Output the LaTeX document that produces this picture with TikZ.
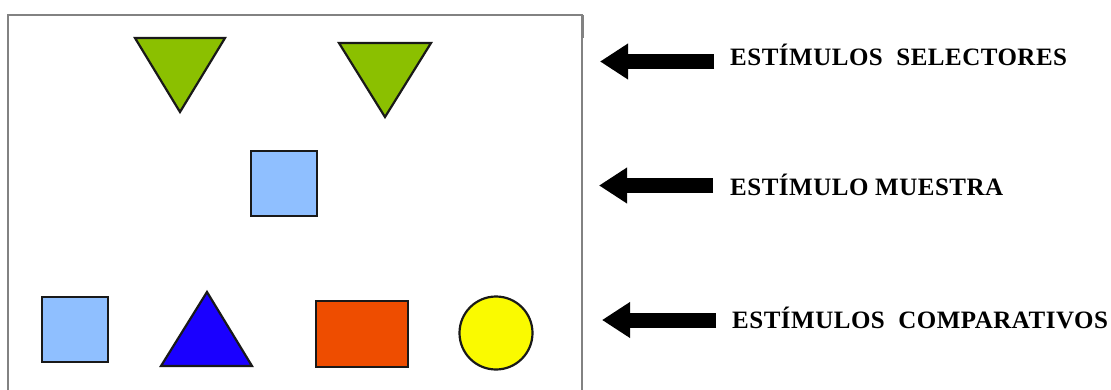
\documentclass[tikz,border=0pt]{standalone}
\usepackage{fontspec}
\setmainfont{Liberation Serif}
\usetikzlibrary{arrows.meta}
\definecolor{selgreen}{RGB}{139,192,0}
\definecolor{lightblue}{RGB}{143,191,255}
\definecolor{deepblue}{RGB}{26,0,255}
\definecolor{redorange}{RGB}{238,77,0}
\definecolor{brightyellow}{RGB}{250,250,0}
\definecolor{framegray}{RGB}{130,130,130}
\tikzset{
  shapeline/.style={draw=black!90, line width=2.2pt, line join=miter},
  fatarrow/.style={line width=15pt, -{Triangle[length=28pt,width=34pt]}, black},
  lbl/.style={anchor=base west, inner sep=0pt, font=\bfseries\fontsize{25pt}{28pt}\selectfont\addfontfeature{LetterSpace=2}},
}
\begin{document}
\begin{tikzpicture}[x=1pt,y=-1pt]
\useasboundingbox (0,0) rectangle (1111,389);
% frame
\draw[framegray, line width=1.6pt] (8,395) -- (8,15) -- (582,15) -- (582,395);
\draw[framegray, line width=3pt] (582,15) -- (582,38);
% selector triangles
\draw[shapeline, fill=selgreen] (135,38) -- (225,38) -- (180,112) -- cycle;
\draw[shapeline, fill=selgreen] (339,43) -- (431,43) -- (385,117) -- cycle;
% sample
\draw[shapeline, fill=lightblue] (251,151) rectangle (317,216);
% comparison stimuli
\draw[shapeline, fill=lightblue] (42,297) rectangle (108,362);
\draw[shapeline, fill=deepblue] (161,366) -- (252,366) -- (207,292) -- cycle;
\draw[shapeline, fill=redorange] (316,301) rectangle (408,367);
\draw[shapeline, fill=brightyellow] (496,333) ellipse [x radius=36.5, y radius=36.5];
% labels
\node[lbl] (l1) at (730,65) {ESTÍMULOS\ \ SELECTORES};
\node[lbl] (l2) at (730,195) {ESTÍMULO MUESTRA};
\node[lbl] (l3) at (732,328) {ESTÍMULOS\ \ COMPARATIVOS};
% arrows
\coordinate (t1) at (714,61.5);
\coordinate (h1) at (600,61.5);
\coordinate (t2) at (713,185.5);
\coordinate (h2) at (599,185.5);
\coordinate (t3) at (716,320);
\coordinate (h3) at (602,320);
\draw[fatarrow] (t1) -- (h1);
\draw[fatarrow] (t2) -- (h2);
\draw[fatarrow] (t3) -- (h3);
\end{tikzpicture}
\end{document}
